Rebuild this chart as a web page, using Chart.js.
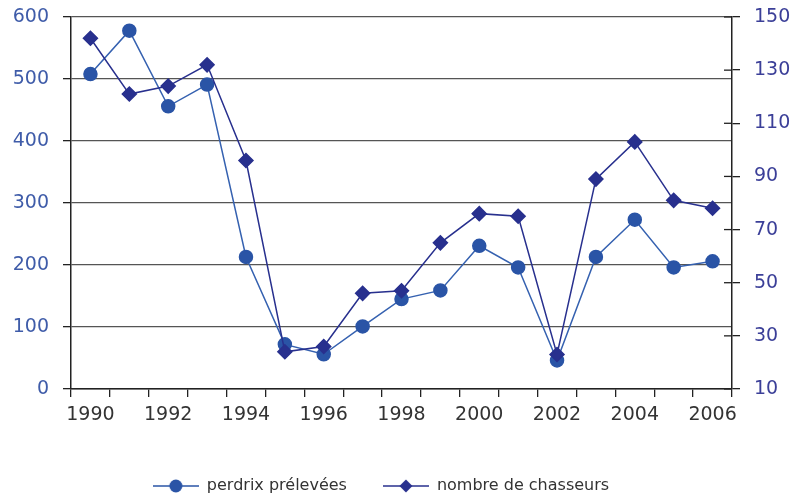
<!DOCTYPE html>
<html>
<head>
<meta charset="utf-8">
<script src="https://cdn.jsdelivr.net/npm/chart.js@4/dist/chart.umd.min.js"></script>
<style>
  html, body { margin: 0; padding: 0; background: #fff; }
</style>
</head>
<body>
<canvas id="chart" width="790" height="494"></canvas>
<script>
// years on the x axis
const years = ["1990", "1991", "1992", "1993", "1994", "1995", "1996", "1997", "1998",
  "1999", "2000", "2001", "2002", "2003", "2004", "2005", "2006"];
// perdrix prélevées (left axis)
const perdrix = [508, 578, 456, 491, 213, 72, 56, 101, 145, 159, 231, 196, 46, 213, 273, 196, 206];
// nombre de chasseurs (right axis)
const chasseurs = [142, 121, 124, 132, 96, 24, 26, 46, 47, 65, 76, 75, 23, 89, 103, 81, 78];

const seriesNames = ["perdrix prélevées", "nombre de chasseurs"];

const circleColor = "#2a54a6";
const diamondColor = "#28308e";
const fontFamily = "'DejaVu Sans', sans-serif";

// small picture for the legend: a line with the marker in the middle
function legendIcon(style, color) {
  const c = document.createElement("canvas");
  c.width = 46;
  c.height = 16;
  const ctx = c.getContext("2d");
  ctx.strokeStyle = color;
  ctx.lineWidth = 1.5;
  ctx.beginPath();
  ctx.moveTo(0, 8);
  ctx.lineTo(46, 8);
  ctx.stroke();
  ctx.fillStyle = color;
  ctx.beginPath();
  if (style === "circle") {
    ctx.arc(23, 8, 6.5, 0, Math.PI * 2);
  } else {
    ctx.moveTo(23, 1.5);
    ctx.lineTo(29.5, 8);
    ctx.lineTo(23, 14.5);
    ctx.lineTo(16.5, 8);
    ctx.closePath();
  }
  ctx.fill();
  return c;
}

// right axis ticks also go a little inside the plot
const innerTicks = {
  id: "innerTicks",
  afterLayout(chart) {
    // legend sits a bit left of the page centre
    chart.legend.left -= 14;
    chart.legend.right -= 14;
  },
  afterDraw(chart) {
    const y1 = chart.scales.y1;
    const ctx = chart.ctx;
    ctx.save();
    ctx.strokeStyle = "#222";
    ctx.lineWidth = 1.3;
    y1.ticks.forEach((t) => {
      const py = y1.getPixelForValue(t.value);
      ctx.beginPath();
      ctx.moveTo(y1.left - 8, py);
      ctx.lineTo(y1.left, py);
      ctx.stroke();
    });
    ctx.restore();
  },
};

function noVertPadding(scale) {
  scale.width = scale.position === "left" ? 71 : 58;
  scale.paddingTop = 0;
  scale.paddingBottom = 0;
}

const ctx = document.getElementById("chart").getContext("2d");
new Chart(ctx, {
  type: "line",
  data: {
    labels: years,
    datasets: [
      {
        label: seriesNames[0],
        data: perdrix,
        yAxisID: "y",
        borderColor: "#3561b0",
        borderWidth: 1.5,
        backgroundColor: circleColor,
        pointBackgroundColor: circleColor,
        pointBorderColor: circleColor,
        pointStyle: "circle",
        pointRadius: 6.5,
        tension: 0,
        order: 1,
      },
      {
        label: seriesNames[1],
        data: chasseurs,
        yAxisID: "y1",
        borderColor: diamondColor,
        borderWidth: 1.5,
        backgroundColor: diamondColor,
        pointBackgroundColor: diamondColor,
        pointBorderColor: diamondColor,
        pointStyle: "rectRot",
        pointRadius: 7,
        tension: 0,
        order: 0,
      },
    ],
  },
  options: {
    responsive: false,
    animation: false,
    layout: { padding: { top: 17, bottom: -10, right: 0 } },
    scales: {
      x: {
        offset: true,
        grid: {
          offset: true,
          drawOnChartArea: false,
          drawTicks: true,
          tickLength: 8,
          color: "#222",
          lineWidth: 1.3,
        },
        border: { color: "#222", width: 1.5 },
        ticks: {
          autoSkip: false,
          maxRotation: 0,
          padding: 7,
          color: "#333",
          font: { family: fontFamily, size: 19 },
          callback: function (value, index) {
            return index % 2 === 0 ? this.getLabelForValue(value) : "";
          },
        },
        afterFit(scale) {
          scale.height = 53;
        },
      },
      y: {
        position: "left",
        min: 0,
        max: 600,
        grid: {
          color: "#555",
          lineWidth: 1.3,
          tickLength: 8,
          tickColor: "#222",
        },
        border: { color: "#222", width: 1.5 },
        ticks: {
          stepSize: 100,
          padding: 14,
          color: "#3f5ca9",
          font: { family: fontFamily, size: 19 },
        },
        afterFit: noVertPadding,
      },
      y1: {
        position: "right",
        min: 10,
        max: 150,
        grid: {
          drawOnChartArea: false,
          tickLength: 8,
          color: "#222",
          lineWidth: 1.3,
        },
        border: { color: "#222", width: 1.5 },
        ticks: {
          stepSize: 20,
          padding: 14,
          color: "#3b3f98",
          font: { family: fontFamily, size: 19 },
        },
        afterFit: noVertPadding,
      },
    },
    plugins: {
      tooltip: { enabled: false },
      legend: {
        position: "bottom",
        labels: {
          usePointStyle: true,
          pointStyleWidth: 46,
          padding: 36,
          color: "#333",
          font: { family: fontFamily, size: 16 },
          generateLabels(chart) {
            return [
              {
                text: seriesNames[0],
                pointStyle: legendIcon("circle", circleColor),
                fontColor: "#333",
                datasetIndex: 0,
                lineWidth: 0,
              },
              {
                text: seriesNames[1],
                pointStyle: legendIcon("diamond", diamondColor),
                fontColor: "#333",
                datasetIndex: 1,
                lineWidth: 0,
              },
            ];
          },
        },
      },
    },
  },
  plugins: [innerTicks],
});
</script>
</body>
</html>
